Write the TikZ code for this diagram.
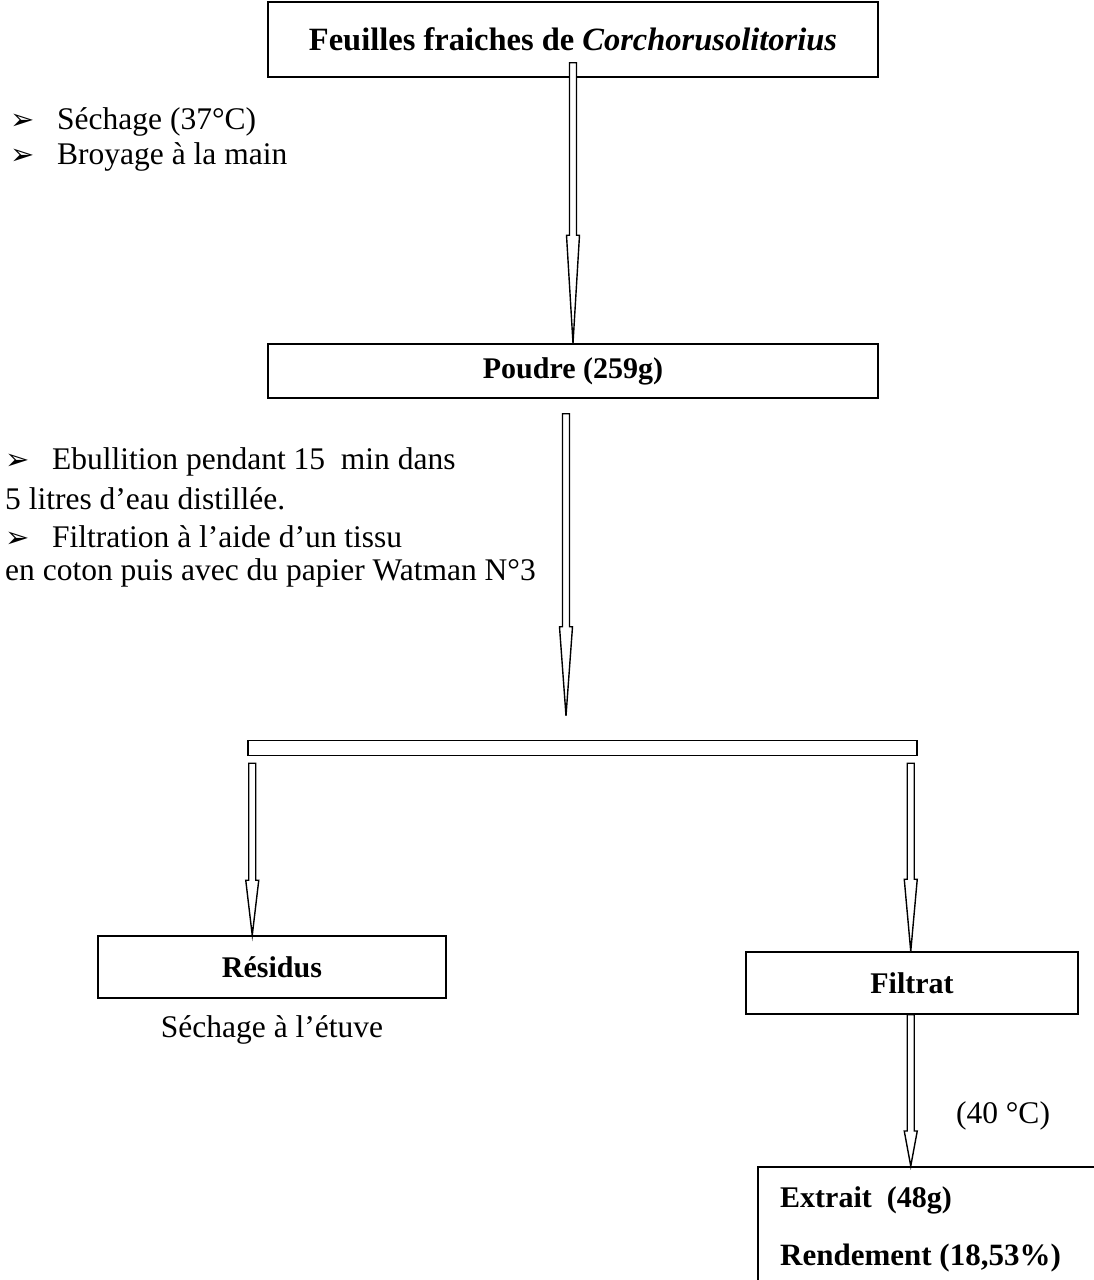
\documentclass[tikz,border=0pt]{standalone}
\usepackage{fontspec}
\setmainfont{Liberation Serif}
\newfontfamily\symfont{DejaVu Sans}
\usetikzlibrary{calc}
\tikzset{
	etape/.style={draw, line width=1.5pt, inner sep=0pt, font=\fontsize{30}{36}\selectfont\bfseries},
	arrowbody/.style={draw, fill=white, line width=1.4pt, line join=miter},
	txt/.style={anchor=west, inner sep=0pt, font=\fontsize{31.5}{36}\selectfont}
}
\def\blockarrow(#1)(#2)(#3){\draw[arrowbody] ($(#1)+(-3.5,0)$) -- ($(#2)+(-3.5,-#3)$) -- ($(#2)+(-6.5,-#3)$) -- (#2) -- ($(#2)+(6.5,-#3)$) -- ($(#2)+(3.5,-#3)$) -- ($(#1)+(3.5,0)$) -- cycle;}
\def\puce{\makebox[47pt][l]{\symfont\fontsize{29}{29}\selectfont ➢}}

\begin{document}
\begin{tikzpicture}[x=1pt, y=-1pt]
			%%%%% START %%%%%
			\useasboundingbox (0, 0) rectangle (1093, 1280);
			
			\node[etape, minimum width=610, minimum height=75, font=\fontsize{32.5}{36}\selectfont\bfseries] (feuilles) at (573, 39.5) {Feuilles fraiches de \textit{Corchorusolitorius}};
			\node[etape, minimum width=610, minimum height=54] (poudre) at (573, 371) {Poudre (259g)};
			
			\node[txt] (sechage) at (10, 122) {\puce S\'echage (37°C)};
			\node[txt] (broyage) at (10, 157) {\puce Broyage à la main};
			
			\coordinate (a1) at ([yshift=15pt]feuilles.south);
			\blockarrow(a1)(poudre.north)(108)
			
			\node[txt] (ebull1) at (5, 462) {\puce Ebullition pendant 15\ \ min dans};
			\node[txt] (ebull2) at (5, 499) {5 litres d’eau distillée.};
			\node[txt] (filtr1) at (5, 537) {\puce Filtration à l’aide d’un tissu};
			\node[txt] (filtr2) at (5, 573) {en coton puis avec du papier Watman N°3};
			
			\node[draw, line width=1.5pt, inner sep=0pt, minimum width=669, minimum height=15] (split) at (582.5, 748) {};
			
			\coordinate (a2) at ([xshift=-7pt, yshift=-15pt]poudre.south);
			\coordinate (t2) at ([yshift=24pt]a2 |- split.north);
			\blockarrow(a2)(t2)(89)
			
			\node[etape, minimum width=348, minimum height=62] (residus) at (272, 967) {R\'esidus};
			\node[etape, minimum width=332, minimum height=62] (filtrat) at (912, 983) {Filtrat};
			
			\coordinate (la) at ([xshift=5pt, yshift=-7pt]split.south west);
			\coordinate (ra) at ([xshift=-7pt, yshift=-7pt]split.south east);
			\blockarrow(la)(la |- residus.north)(55)
			\blockarrow(ra)(ra |- filtrat.north)(72)
			
			\node[txt, anchor=center] (etuve) at (272, 1030) {S\'echage à l’étuve};
			
			\node[draw, line width=1.5pt, anchor=north west, minimum width=400, minimum height=150] (extrait) at (757, 1166) {};
			\blockarrow(ra |- filtrat.south)(ra |- extrait.north)(35)
			\node[txt, anchor=center] (temp) at (1003, 1116) {(40 °C)};
			
			\node[txt, font=\fontsize{30}{36}\selectfont\bfseries] (extr) at ([xshift=23pt, yshift=-34pt]extrait.north west) {Extrait~~(48g)};
			\node[txt, font=\fontsize{31}{36}\selectfont\bfseries] (rend) at ([xshift=23pt, yshift=-92pt]extrait.north west) {Rendement (18,53\%)};
			
			%%%%% END %%%%%
		\end{tikzpicture}
\end{document}
